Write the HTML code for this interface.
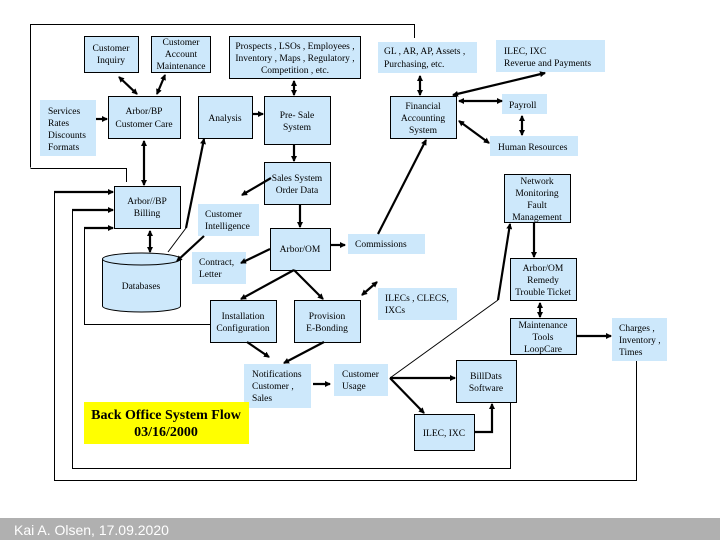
<!DOCTYPE html>
<html><head><meta charset="utf-8"><style>
html,body{margin:0;padding:0;background:#fff;}
svg{display:block;}
text{font-family:"Liberation Serif",serif;font-size:9.5px;fill:#000;}
</style></head><body>
<svg width="720" height="540" viewBox="0 0 720 540" xmlns="http://www.w3.org/2000/svg">
<defs>
<marker id="a" markerWidth="6" markerHeight="6" refX="5" refY="3" orient="auto" markerUnits="userSpaceOnUse"><path d="M0,0 L6,3 L0,6 z" fill="#000"/></marker>
<marker id="s" markerWidth="6" markerHeight="6" refX="1" refY="3" orient="auto" markerUnits="userSpaceOnUse"><path d="M6,0 L0,3 L6,6 z" fill="#000"/></marker>
</defs>
<g fill="#cde8fb">
<rect x="40" y="100" width="56" height="56"/>
<rect x="378" y="42" width="99" height="31"/>
<rect x="496" y="40" width="109" height="32"/>
<rect x="502" y="94" width="45" height="20"/>
<rect x="490" y="136" width="88" height="20"/>
<rect x="198" y="204" width="61" height="32"/>
<rect x="348" y="234" width="77" height="20"/>
<rect x="192" y="252" width="54" height="32"/>
<rect x="378" y="288" width="79" height="32"/>
<rect x="612" y="318" width="55" height="43"/>
<rect x="244" y="364" width="67" height="44"/>
<rect x="334" y="364" width="54" height="32"/>
</g>
<g fill="#cde8fb" stroke="#000" stroke-width="1">
<rect x="84.5" y="36.5" width="54" height="36"/>
<rect x="151.5" y="36.5" width="59" height="36"/>
<rect x="229.5" y="36.5" width="131" height="42"/>
<rect x="108.5" y="96.5" width="72" height="42"/>
<rect x="198.5" y="96.5" width="54" height="42"/>
<rect x="264.5" y="96.5" width="66" height="48"/>
<rect x="390.5" y="96.5" width="66" height="42"/>
<rect x="264.5" y="162.5" width="66" height="42"/>
<rect x="504.5" y="174.5" width="66" height="48"/>
<rect x="114.5" y="186.5" width="66" height="42"/>
<rect x="270.5" y="228.5" width="60" height="42"/>
<rect x="510.5" y="258.5" width="66" height="42"/>
<rect x="210.5" y="300.5" width="66" height="42"/>
<rect x="294.5" y="300.5" width="66" height="42"/>
<rect x="510.5" y="318.5" width="66" height="36"/>
<rect x="456.5" y="360.5" width="60" height="42"/>
<rect x="414.5" y="414.5" width="60" height="36"/>
<path d="M102.5,259 L102.5,306 A39,6 0 0 0 180.5,306 L180.5,259"/>
<ellipse cx="141.5" cy="259" rx="39" ry="6"/>
</g>
<rect x="84" y="402" width="165" height="42" fill="#ffff00"/>
<!-- thin loops -->
<g fill="none" stroke="#000" stroke-width="1">
<path d="M30.5,167.5 L30.5,24.5 L414.5,24.5 L414.5,38" />
<path d="M30.5,168.5 L126.5,168.5 L126.5,182"/>
<path d="M54.5,192.5 L54.5,480.5 L636.5,480.5 L636.5,361"/>
<path d="M72.5,210.5 L72.5,468.5 L510.5,468.5 L510.5,402"/>
<path d="M84.5,228.5 L84.5,324.5 L210,324.5"/>
<path d="M168,252 L186,228"/>
<path d="M390,378 L498,300"/>
</g>
<g fill="none" stroke="#000" stroke-width="2.2" marker-end="url(#a)">
<path d="M54,192 L113,192"/>
<path d="M72,210 L113,210"/>
<path d="M84,228 L113,228"/>
<path d="M119,77 L137,94" marker-start="url(#s)"/>
<path d="M165,75 L157,94" marker-start="url(#s)"/>
<path d="M96,119 L107,119"/>
<path d="M144,141 L144,185" marker-start="url(#s)"/>
<path d="M150,231 L150,252" marker-start="url(#s)"/>
<path d="M186,228 L204,139"/>
<path d="M252,114 L263,114"/>
<path d="M294,81 L294,95" marker-start="url(#s)"/>
<path d="M294,145 L294,161"/>
<path d="M271,178 L242,195"/>
<path d="M300,205 L300,227"/>
<path d="M204,236 L177,261"/>
<path d="M270,249 L241,263"/>
<path d="M331,245 L345,245"/>
<path d="M378,234 L426,140"/>
<path d="M420,76 L420,95" marker-start="url(#s)"/>
<path d="M453,95 L545,73" marker-start="url(#s)"/>
<path d="M459,101 L502,101" marker-start="url(#s)"/>
<path d="M459,121 L489,143" marker-start="url(#s)"/>
<path d="M522,116 L522,135" marker-start="url(#s)"/>
<path d="M534,223 L534,257"/>
<path d="M498,300 L510,224"/>
<path d="M540,303 L540,317" marker-start="url(#s)"/>
<path d="M577,336 L611,336"/>
<path d="M294,270 L241,299"/>
<path d="M294,270 L323,299"/>
<path d="M362,295 L377,282" marker-start="url(#s)"/>
<path d="M247,342 L269,357"/>
<path d="M324,342 L284,363"/>
<path d="M313,384 L330,384"/>
<path d="M390,378 L455,378"/>
<path d="M390,378 L424,413"/>
<path d="M475,432 L492,432 L492,404"/>
</g>
<g text-anchor="middle">
<text x="111" y="51">Customer</text><text x="111" y="63">Inquiry</text>
<text x="181" y="45">Customer</text><text x="181" y="57">Account</text><text x="181" y="69">Maintenance</text>
<text x="295" y="49">Prospects , LSOs , Employees ,</text><text x="295" y="61">Inventory , Maps , Regulatory ,</text><text x="295" y="73">Competition , etc.</text>
<text x="144" y="114">Arbor/BP</text><text x="144" y="127">Customer Care</text>
<text x="225" y="121">Analysis</text>
<text x="297" y="118">Pre- Sale</text><text x="297" y="130">System</text>
<text x="423" y="109">Financial</text><text x="423" y="121">Accounting</text><text x="423" y="133">System</text>
<text x="297" y="181">Sales System</text><text x="297" y="193">Order Data</text>
<text x="537" y="184">Network</text><text x="537" y="196">Monitoring</text><text x="537" y="208">Fault</text><text x="537" y="220">Management</text>
<text x="147" y="204">Arbor//BP</text><text x="147" y="216">Billing</text>
<text x="300" y="252">Arbor/OM</text>
<text x="141" y="289">Databases</text>
<text x="543" y="271">Arbor/OM</text><text x="543" y="283">Remedy</text><text x="543" y="295">Trouble Ticket</text>
<text x="243" y="319">Installation</text><text x="243" y="331">Configuration</text>
<text x="327" y="319">Provision</text><text x="327" y="331">E-Bonding</text>
<text x="543" y="328">Maintenance</text><text x="543" y="340">Tools</text><text x="543" y="352">LoopCare</text>
<text x="486" y="379">BillDats</text><text x="486" y="391">Software</text>
<text x="444" y="436">ILEC, IXC</text>
</g>
<g>
<text x="384" y="54">GL , AR, AP, Assets ,</text><text x="384" y="67">Purchasing, etc.</text>
<text x="504" y="54">ILEC, IXC</text><text x="504" y="66">Reverue and Payments</text>
<text x="48" y="114">Services</text><text x="48" y="126">Rates</text><text x="48" y="138">Discounts</text><text x="48" y="150">Formats</text>
<text x="509" y="108">Payroll</text>
<text x="498" y="150">Human Resources</text>
<text x="205" y="217">Customer</text><text x="205" y="229">Intelligence</text>
<text x="355" y="247">Commissions</text>
<text x="199" y="265">Contract,</text><text x="199" y="277">Letter</text>
<text x="385" y="301">ILECs , CLECS,</text><text x="385" y="313">IXCs</text>
<text x="619" y="331">Charges ,</text><text x="619" y="343">Inventory ,</text><text x="619" y="355">Times</text>
<text x="252" y="377">Notifications</text><text x="252" y="389">Customer ,</text><text x="252" y="401">Sales</text>
<text x="342" y="377">Customer</text><text x="342" y="389">Usage</text>
</g>
<g text-anchor="middle" style="font-weight:bold;">
<text x="166" y="419" style="font-size:14px;font-weight:bold">Back Office System Flow</text>
<text x="166" y="436" style="font-size:14px;font-weight:bold">03/16/2000</text>
</g>
<rect x="0" y="518" width="720" height="22" fill="#b0b0b0"/>
<text x="14" y="535" style="font-family:'Liberation Sans',sans-serif;font-size:14px;fill:#fff">Kai A. Olsen, 17.09.2020</text>
</svg>
</body></html>
